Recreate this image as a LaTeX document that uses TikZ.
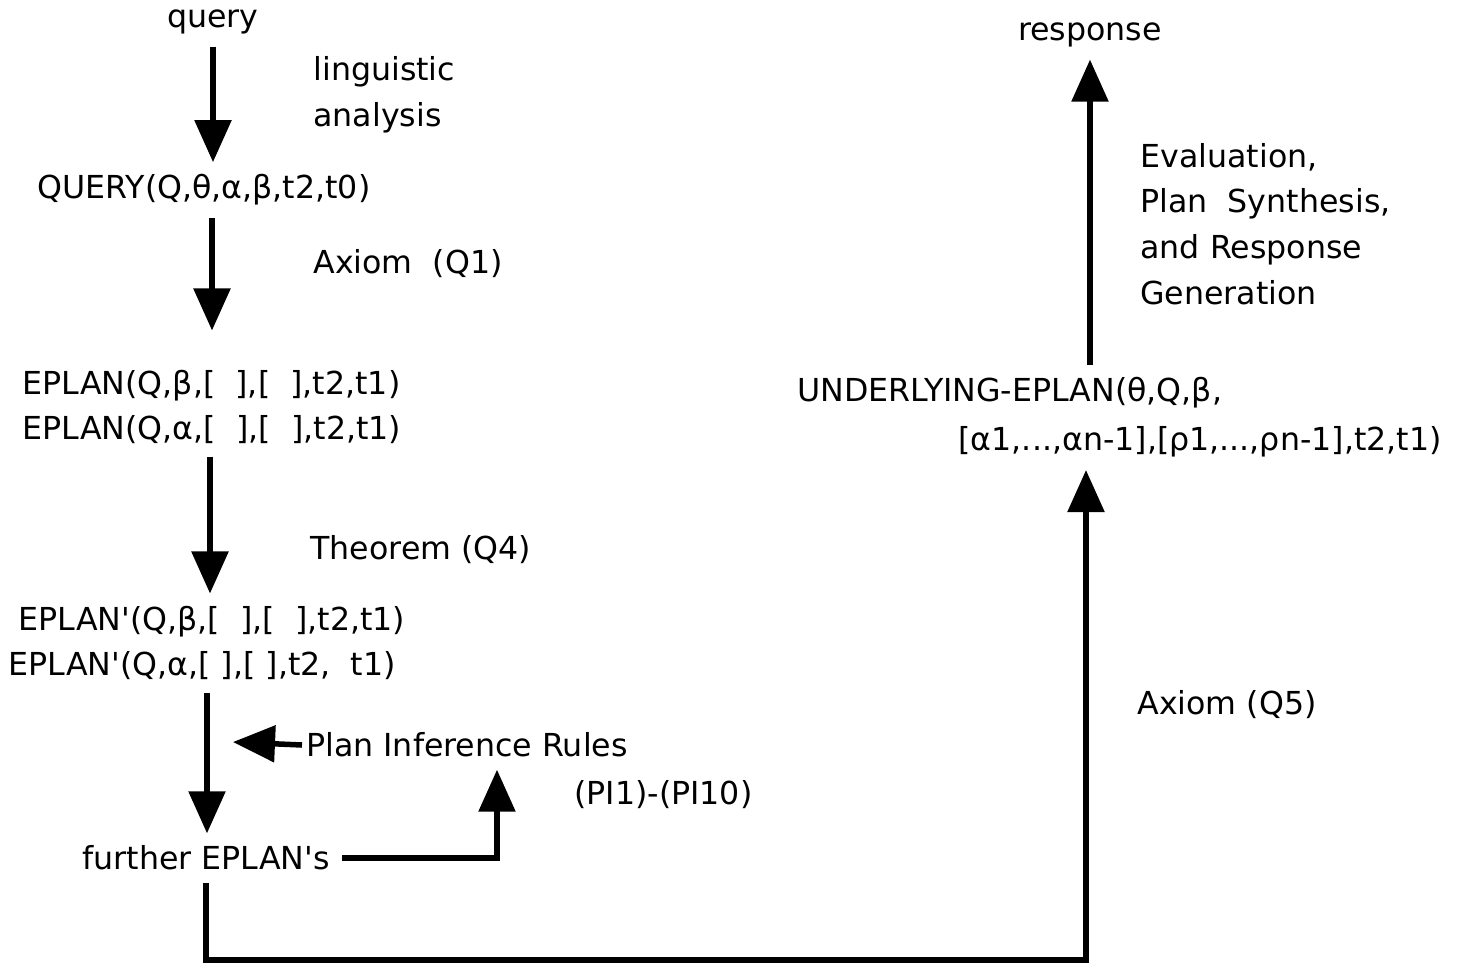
\documentclass[tikz,border=0pt]{standalone}
\usepackage{fontspec}
\setmainfont{DejaVu Sans}
\usetikzlibrary{arrows.meta,calc}

\tikzset{
    txt/.style={font=\fontsize{9}{13}\selectfont},
    flow/.style={line width=0.055cm,-{Triangle[length=0.42cm,width=0.36cm]}},
    link/.style={line width=0.055cm}
}

\begin{document}
\begin{tikzpicture}[x=0.01cm,y=-0.01cm]
    \useasboundingbox (0,0) rectangle (1457,966);

    % Left column of plans
    \node[txt] (query) at (213,22) {query};
    \node[txt] (qry) at (204,190) {QUERY(Q,θ,α,β,t2,t0)};
    \node[txt,align=left] (ep) at (212,407) {EPLAN(Q,β,[\ \ ],[\ \ ],t2,t1)\\EPLAN(Q,α,[\ \ ],[\ \ ],t2,t1)};
    \node[txt,align=left] (epp) at (207,643) {\ EPLAN\textquotesingle(Q,β,[\ \ ],[\ \ ],t2,t1)\\EPLAN\textquotesingle(Q,α,[\ ],[\ ],t2,\ \ t1)};
    \node[txt] (further) at (206,858) {further EPLAN\textquotesingle s};

    % Labels beside the arrows
    \node[txt,anchor=west,align=left] (ling) at (301,95) {linguistic\\analysis};
    \node[txt,anchor=west] (ax1) at (301,264) {Axiom\ \ (Q1)};
    \node[txt,anchor=west] (thm) at (298,550) {Theorem (Q4)};
    \node[txt,anchor=west,inner xsep=1pt] (rules) at (302,745) {Plan Inference Rules};
    \node[txt,anchor=west] (pinum) at (562,795) {(PI1)-(PI10)};

    % Right column
    \node[txt,anchor=west] (under1) at (785,393) {UNDERLYING-EPLAN(θ,Q,β,};
    \node[txt,anchor=east] (under2) at (1454,442) {[α1,...,αn-1],[ρ1,...,ρn-1],t2,t1)};
    \node[txt] (response) at (1090,35) {response};
    \node[txt,anchor=west,align=left] (evalu) at (1128,224) {Evaluation,\\Plan\ \ Synthesis,\\and Response\\Generation};
    \node[txt,anchor=west] (ax5) at (1125,705) {Axiom (Q5)};

    \coordinate (rulestip) at (233,742);
    \coordinate (floor) at (0,960);
    \coordinate (q5tip) at (1086,470);

    % Arrows down the left side
    \draw[flow] (query.south) -- (query.south |- qry.north);
    \draw[flow,shorten >=0.27cm] (qry.south -| 212,0) -- (ep.north -| 212,0);
    \draw[flow] (ep.south -| 210,0) -- (epp.north -| 210,0);
    \draw[flow] (epp.south) -- (epp.south |- further.north);
    \draw[flow] (rules.west) -- (rulestip);
    \draw[flow] (further.east) -| ($(rules.south)+(30,0)$);

    % Long way round to the underlying plan
    \draw[flow] (further.south) -- (further.south |- floor) -| (q5tip);
    \draw[flow] (response.south |- under1.north) -- (response.south);
\end{tikzpicture}
\end{document}
